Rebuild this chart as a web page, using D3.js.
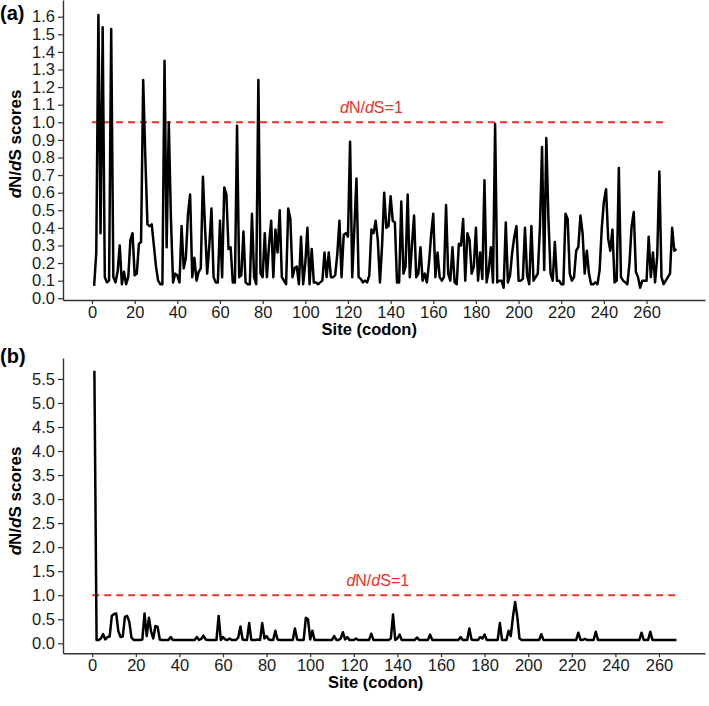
<!DOCTYPE html>
<html>
<head>
<meta charset="utf-8">
<script src="https://cdn.jsdelivr.net/npm/d3@7"></script>
<style>
  html, body { margin: 0; padding: 0; background: #fff; }
  svg { display: block; }
  text { font-family: "Liberation Sans", Arial, sans-serif; }
</style>
</head>
<body>
<svg id="chart" width="709" height="706"></svg>
<script>
// ---------- Data ----------
// Panel (a): dN/dS score per codon site (sites 1..274)
const scoresA = [
  0.07,0.26,1.61,0.37,1.54,0.12,0.09,0.10,1.53,0.12,
  0.09,0.15,0.30,0.08,0.15,0.08,0.12,0.33,0.37,0.13,
  0.14,0.31,0.32,1.24,0.80,0.42,0.41,0.42,0.30,0.18,
  0.10,0.08,0.08,1.35,0.29,1.00,0.45,0.09,0.14,0.13,
  0.09,0.41,0.17,0.23,0.48,0.59,0.12,0.23,0.10,0.15,
  0.17,0.69,0.40,0.14,0.30,0.51,0.12,0.09,0.09,0.44,
  0.12,0.63,0.59,0.28,0.29,0.09,0.09,0.98,0.12,0.13,
  0.38,0.09,0.08,0.08,0.48,0.12,0.08,1.24,0.14,0.12,
  0.37,0.12,0.30,0.44,0.12,0.39,0.26,0.50,0.12,0.10,
  0.08,0.51,0.45,0.12,0.17,0.18,0.08,0.35,0.08,0.20,
  0.40,0.08,0.28,0.09,0.09,0.08,0.09,0.10,0.26,0.12,
  0.26,0.12,0.12,0.13,0.25,0.44,0.12,0.36,0.37,0.35,
  0.89,0.12,0.40,0.68,0.12,0.11,0.09,0.10,0.09,0.13,
  0.39,0.37,0.44,0.33,0.09,0.30,0.60,0.40,0.41,0.58,
  0.44,0.43,0.09,0.09,0.55,0.14,0.18,0.59,0.12,0.30,
  0.47,0.12,0.14,0.29,0.10,0.14,0.09,0.20,0.36,0.48,
  0.12,0.26,0.12,0.10,0.12,0.53,0.14,0.10,0.29,0.09,
  0.08,0.31,0.30,0.45,0.10,0.37,0.33,0.14,0.18,0.40,
  0.10,0.26,0.11,0.67,0.09,0.16,0.29,0.09,0.99,0.09,
  0.10,0.10,0.06,0.43,0.09,0.13,0.26,0.35,0.41,0.10,
  0.10,0.11,0.40,0.13,0.08,0.41,0.10,0.12,0.14,0.40,
  0.86,0.16,0.91,0.45,0.14,0.10,0.32,0.10,0.10,0.08,
  0.08,0.48,0.45,0.14,0.10,0.12,0.27,0.29,0.47,0.37,
  0.14,0.27,0.14,0.08,0.08,0.09,0.08,0.16,0.40,0.55,
  0.62,0.34,0.27,0.39,0.09,0.10,0.74,0.12,0.10,0.09,
  0.08,0.20,0.41,0.49,0.15,0.12,0.06,0.10,0.10,0.10,
  0.35,0.12,0.26,0.09,0.24,0.72,0.12,0.08,0.10,0.12,
  0.14,0.40,0.27,0.28
];
// Panel (b): dN/dS score per codon site (sites 1..268)
const scoresB = [
  5.67,0.07,0.07,0.10,0.19,0.08,0.13,0.14,0.57,0.61,
  0.62,0.25,0.13,0.14,0.55,0.57,0.45,0.12,0.07,0.07,
  0.07,0.07,0.08,0.62,0.15,0.53,0.25,0.10,0.36,0.34,
  0.08,0.07,0.07,0.07,0.07,0.13,0.07,0.07,0.07,0.07,
  0.07,0.07,0.07,0.07,0.07,0.07,0.07,0.13,0.07,0.09,
  0.16,0.08,0.07,0.07,0.07,0.07,0.07,0.57,0.07,0.13,
  0.08,0.07,0.10,0.07,0.07,0.07,0.12,0.35,0.08,0.07,
  0.07,0.42,0.07,0.07,0.07,0.08,0.07,0.42,0.10,0.15,
  0.08,0.07,0.07,0.26,0.08,0.07,0.07,0.07,0.07,0.07,
  0.07,0.07,0.31,0.08,0.07,0.07,0.07,0.53,0.50,0.08,
  0.26,0.07,0.07,0.07,0.07,0.07,0.07,0.07,0.07,0.07,
  0.15,0.07,0.07,0.10,0.23,0.08,0.13,0.07,0.07,0.07,
  0.10,0.07,0.07,0.07,0.07,0.07,0.07,0.20,0.07,0.07,
  0.07,0.07,0.07,0.07,0.07,0.07,0.10,0.60,0.07,0.10,
  0.18,0.07,0.07,0.07,0.07,0.07,0.07,0.07,0.12,0.07,
  0.07,0.07,0.07,0.07,0.18,0.07,0.07,0.07,0.07,0.07,
  0.07,0.07,0.07,0.07,0.07,0.07,0.07,0.07,0.13,0.07,
  0.07,0.07,0.31,0.08,0.07,0.07,0.07,0.13,0.10,0.18,
  0.07,0.07,0.07,0.07,0.07,0.07,0.42,0.07,0.07,0.07,
  0.26,0.15,0.55,0.86,0.55,0.10,0.07,0.07,0.07,0.07,
  0.07,0.07,0.07,0.07,0.07,0.19,0.07,0.07,0.07,0.07,
  0.07,0.07,0.07,0.07,0.07,0.07,0.07,0.07,0.07,0.07,
  0.07,0.07,0.22,0.07,0.07,0.09,0.07,0.07,0.07,0.07,
  0.24,0.07,0.07,0.07,0.07,0.07,0.07,0.07,0.07,0.07,
  0.07,0.07,0.07,0.07,0.07,0.07,0.07,0.07,0.07,0.07,
  0.07,0.22,0.07,0.07,0.07,0.24,0.07,0.07,0.07,0.07,
  0.07,0.07,0.07,0.07,0.07,0.07,0.07,0.07
];
const xTicks = [0,20,40,60,80,100,120,140,160,180,200,220,240,260];
const yTicksA = [0,0.1,0.2,0.3,0.4,0.5,0.6,0.7,0.8,0.9,1.0,1.1,1.2,1.3,1.4,1.5,1.6];
const yTicksB = [0,0.5,1.0,1.5,2.0,2.5,3.0,3.5,4.0,4.5,5.0,5.5];
const threshold = 1;
const thresholdSpan = [0, 268];
const panelLabels = ["(a)", "(b)"];
const xTitle = "Site (codon)";

// ---------- Layout ----------
const svg = d3.select("#chart");
const FONT = '"Liberation Sans", Arial, sans-serif';
const panels = [
  { label: panelLabels[0], data: scoresA, yTicks: yTicksA,
    xDomain: [-13.6, 287.4], xRange: [63, 705],
    yDomain: [-0.01, 1.695], yRange: [300, 0],
    labelY: 20, titleY: 144, fmt: d3.format(".1f") },
  { label: panelLabels[1], data: scoresB, yTicks: yTicksB,
    xDomain: [-13.4, 281.1], xRange: [63, 705],
    yDomain: [-0.208, 5.935], yRange: [653.3, 358],
    labelY: 363, titleY: 501, fmt: d3.format(".1f") }
];

panels.forEach(p => {
  const x = d3.scaleLinear().domain(p.xDomain).range(p.xRange);
  const y = d3.scaleLinear().domain(p.yDomain).range(p.yRange);
  const g = svg.append("g");

  // X axis
  const xAxis = g.append("g")
    .attr("transform", `translate(0,${p.yRange[0]})`)
    .call(d3.axisBottom(x).tickValues(xTicks).tickSize(4).tickSizeOuter(0).tickPadding(2));
  // Y axis
  const yAxis = g.append("g")
    .attr("transform", `translate(${p.xRange[0]},0)`)
    .call(d3.axisLeft(y).tickValues(p.yTicks).tickFormat(p.fmt).tickSize(5).tickSizeOuter(0).tickPadding(3));
  [xAxis, yAxis].forEach(a => {
    a.select(".domain").attr("stroke", "#333").attr("stroke-width", 1.4);
    a.selectAll(".tick line").attr("stroke", "#333").attr("stroke-width", 1.2);
    a.selectAll(".tick text").attr("fill", "#1a1a1a")
      .style("font-size", "16.5px").style("font-family", FONT);
  });

  // Threshold dashed line
  g.append("line")
    .attr("x1", x(thresholdSpan[0])).attr("x2", x(thresholdSpan[1]))
    .attr("y1", y(threshold)).attr("y2", y(threshold))
    .attr("stroke", "#e8312b").attr("stroke-width", 2)
    .attr("stroke-dasharray", "7,5");
  const lab = g.append("text")
    .attr("x", x(131)).attr("y", y(threshold) - 9)
    .attr("text-anchor", "middle")
    .attr("fill", "#e8312b").style("font-size", "16px");
  lab.append("tspan").style("font-style", "italic").text("d");
  lab.append("tspan").text("N/");
  lab.append("tspan").style("font-style", "italic").text("d");
  lab.append("tspan").text("S=1");

  // Data line
  const line = d3.line()
    .x((d, i) => x(i + 1))
    .y(d => y(d));
  g.append("path")
    .datum(p.data)
    .attr("fill", "none")
    .attr("stroke", "#000")
    .attr("stroke-width", 2.5)
    .attr("stroke-linejoin", "round")
    .attr("d", line);

  // Axis titles
  g.append("text")
    .attr("x", x(130)).attr("y", p.yRange[0] + 35)
    .attr("text-anchor", "middle")
    .style("font-size", "16.5px").style("font-weight", "bold")
    .attr("fill", "#000")
    .text(xTitle);
  const yt = g.append("text")
    .attr("transform", `translate(21,${p.titleY}) rotate(-90)`)
    .attr("text-anchor", "middle")
    .style("font-size", "17px").style("font-weight", "bold")
    .attr("fill", "#000");
  yt.append("tspan").style("font-style", "italic").text("d");
  yt.append("tspan").text("N/");
  yt.append("tspan").style("font-style", "italic").text("d");
  yt.append("tspan").text("S scores");

  // Panel label
  g.append("text")
    .attr("x", 0).attr("y", p.labelY)
    .style("font-size", "20px").style("font-weight", "bold")
    .attr("fill", "#000")
    .text(p.label);
});
</script>
</body>
</html>
